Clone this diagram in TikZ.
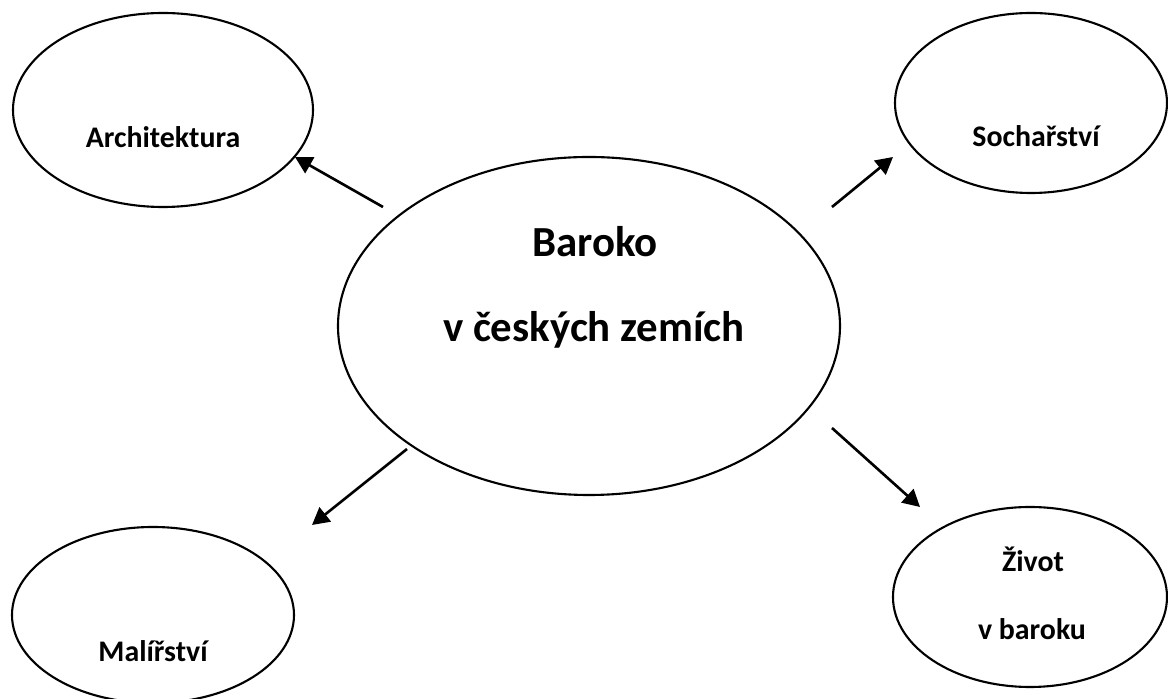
\documentclass[tikz,border=0pt]{standalone}
\usepackage{fontspec}
\setmainfont{Carlito}
\usetikzlibrary{shapes,arrows.meta,positioning}
\tikzstyle{topic}=[ellipse,draw,line width=0.6pt,inner sep=0pt]
\tikzstyle{link}=[draw,line width=0.75pt,-{Triangle[length=1.7mm,width=1.8mm]}]
\tikzstyle{small}=[anchor=base,font=\fontsize{8.5}{10}\selectfont\bfseries]
\tikzstyle{big}=[anchor=base,font=\fontsize{12.2}{14}\selectfont\bfseries]

\begin{document}
\begin{tikzpicture}
\useasboundingbox (0,0) rectangle (11.68,-6.99);

% First the ellipses
\foreach \pos/\name/\ew/\eh in {{(1.63,-1.10)/arch/3.00/1.94},{(10.31,-1.03)/soch/2.72/1.80},{(5.89,-3.26)/base/5.02/3.38},{(1.53,-6.15)/mal/2.82/1.76},{(10.30,-5.97)/ziv/2.74/1.80}}
\node[topic,minimum width=\ew cm,minimum height=\eh cm] (\name) at \pos {};

% Then the texts
\node[big] (basetxt) at (5.95,-2.57) {Baroko};
\node[big] (basetxtb) at (5.94,-3.42) {v českých zemích};
\node[small] (archtxt) at (1.63,-1.48) {Architektura};
\node[small] (sochtxt) at (10.36,-1.47) {Sochařství};
\node[small] (maltxt) at (1.53,-6.62) {Malířství};
\node[small] (zivtxt) at (10.33,-5.72) {Život};
\node[small] (zivtxtb) at (10.32,-6.40) {v baroku};

% Ends of the arrows
\foreach \pos/\name in {{(3.83,-2.07)/s1},{(2.95,-1.57)/t1},{(8.32,-2.07)/s2},{(8.93,-1.57)/t2},{(4.07,-4.49)/s3},{(3.12,-5.25)/t3},{(8.32,-4.28)/s4},{(9.20,-5.07)/t4}}
\node[coordinate] (\name) at \pos {};

\foreach \source/ \dest in {s1/t1,s2/t2,s3/t3,s4/t4}
\path[link] (\source) -- (\dest);

\end{tikzpicture}
\end{document}
